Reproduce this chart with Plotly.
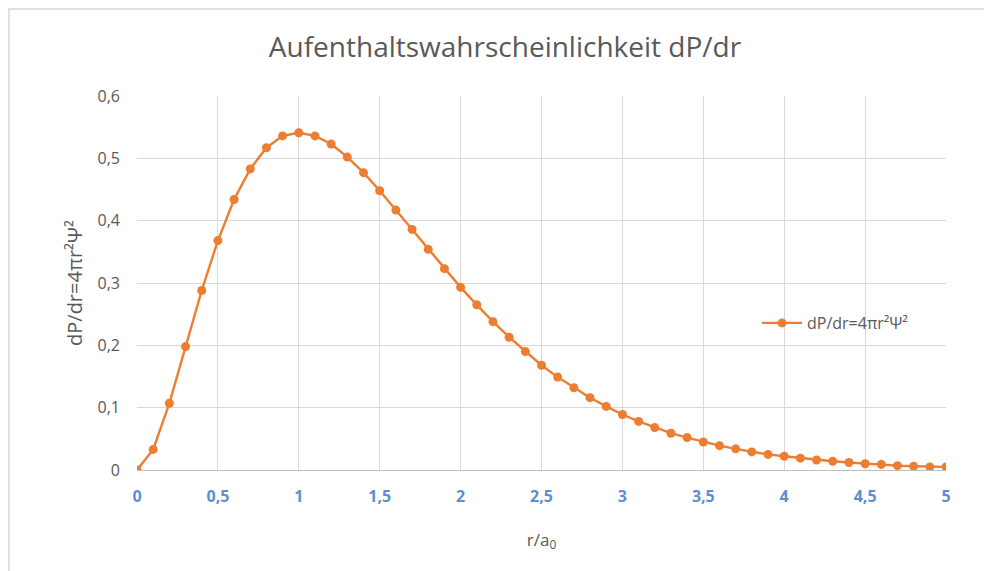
import plotly.graph_objects as go

r_values = [round(i * 0.1, 1) for i in range(51)]
dPdr = [0.0, 0.033, 0.107, 0.198, 0.288, 0.368, 0.434, 0.483, 0.517, 0.536,
        0.541, 0.536, 0.523, 0.502, 0.477, 0.448, 0.417, 0.386, 0.354, 0.323,
        0.293, 0.265, 0.238, 0.213, 0.190, 0.168, 0.149, 0.132, 0.116, 0.102,
        0.089, 0.078, 0.068, 0.059, 0.052, 0.045, 0.039, 0.034, 0.029, 0.025,
        0.022, 0.019, 0.016, 0.014, 0.012, 0.010, 0.009, 0.007, 0.006, 0.005,
        0.005]
x_ticks = [0, 0.5, 1, 1.5, 2, 2.5, 3, 3.5, 4, 4.5, 5]
y_ticks = [0, 0.1, 0.2, 0.3, 0.4, 0.5, 0.6]
series_name = "dP/dr=4πr²Ψ²"

ORANGE = "#ed7d31"
FONT = "Open Sans, Liberation Sans, sans-serif"

# page offset from default body margin
OFF = 8
W, H = 992 - OFF, 571 - OFF
# target plot area in page pixels
PX0, PX1, PY0, PY1 = 137, 946, 96, 470
L = PX0 - OFF
T = PY0 - OFF
R = (OFF + W) - PX1
B = (OFF + H) - PY1
pw = PX1 - PX0
ph = PY1 - PY0

def px2paper_x(px):
    return (px - PX0) / pw

def py2paper_y(py):
    return (PY1 - py) / ph

def py2container_y(py):
    return 1 - (py - OFF) / H

fig = go.Figure()
fig.add_trace(go.Scatter(
    x=r_values, y=dPdr, mode="lines+markers", name=series_name,
    line=dict(color=ORANGE, width=2.4),
    marker=dict(color=ORANGE, size=9),
))

fig.update_layout(
    width=W, height=H,
    margin=dict(l=L, r=R, t=T, b=B, autoexpand=False),
    paper_bgcolor="white", plot_bgcolor="white",
    separators=",.",
    font=dict(family=FONT, color="#595959", size=16),
    title=dict(text="Aufenthaltswahrscheinlichkeit dP/dr",
               x=px2paper_x(505), xref="paper", xanchor="center",
               y=py2container_y(47), yref="container", yanchor="middle",
               font=dict(size=28, color="#595959", family=FONT)),
    xaxis=dict(range=[0, 5], tickvals=x_ticks, showgrid=True,
               gridcolor="#d9d9d9", gridwidth=1, zeroline=False,
               showline=True, linecolor="#bfbfbf", linewidth=1,
               ticks="", ticklabelstandoff=12,
               tickfont=dict(color="#5b8fd0", size=16, family=FONT, weight="bold"),
               title=dict(text="r/a<sub>0</sub>", font=dict(size=17, color="#595959"), standoff=27)),
    yaxis=dict(range=[0, 0.6], tickvals=y_ticks, showgrid=True,
               gridcolor="#d9d9d9", gridwidth=1, zeroline=False,
               showline=False, ticks="", ticklabelstandoff=16,
               tickfont=dict(size=16, color="#595959"),
               title=dict(text=series_name, font=dict(size=20, color="#595959"), standoff=9)),
    showlegend=True,
    legend=dict(x=px2paper_x(757), y=py2paper_y(323), xanchor="left", yanchor="middle",
                bgcolor="rgba(0,0,0,0)", font=dict(size=16, color="#595959"),
                itemwidth=40),
    shapes=[dict(type="rect", xref="paper", yref="paper",
                 x0=px2paper_x(9), x1=px2paper_x(1010),
                 y0=py2paper_y(590), y1=py2paper_y(9),
                 line=dict(color="#d9d9d9", width=1.5), fillcolor="rgba(0,0,0,0)",
                 layer="below")],
)

fig.write_html("out.html")
